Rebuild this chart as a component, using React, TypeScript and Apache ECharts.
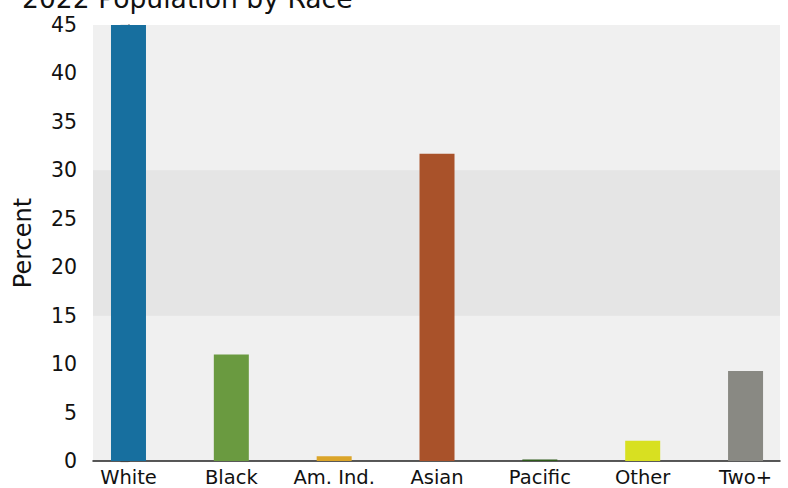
import React, { useEffect, useRef } from "react";
import * as echarts from "echarts";

const categories = ["White", "Black", "Am. Ind.", "Asian", "Pacific", "Other", "Two+"];
const percents = [45, 11.0, 0.5, 31.7, 0.15, 2.1, 9.3];
const barColors = ["#176f9f", "#6a9a40", "#dba52a", "#a9522a", "#2e5a1a", "#d8e021", "#898983"];
const yTicks = [0, 5, 10, 15, 20, 25, 30, 35, 40, 45];
const FONT = "DejaVu Sans";

export default function App() {
  const ref = useRef<HTMLDivElement>(null);
  useEffect(() => {
    if (!ref.current) return;
    document.body.style.margin = "0";
    const chart = echarts.init(ref.current, null, { renderer: "svg" });
    const positions = categories.map((_, i) => i);
    chart.setOption({
      animation: false,
      title: {
        text: "2022 Population by Race",
        left: 17,
        top: -20,
        textStyle: { fontFamily: FONT, fontSize: 26.6, fontWeight: "normal", color: "#111" },
      },
      grid: {
        left: 93,
        right: 8,
        top: 25,
        bottom: 27,
        show: true,
        backgroundColor: "#f0f0f0",
        borderWidth: 0,
      },
      xAxis: {
        type: "value",
        min: -0.345,
        max: 6.335,
        splitLine: { show: false },
        axisTick: { show: false },
        axisLine: { show: true, onZero: false, lineStyle: { color: "#222", width: 1.5 } },
        axisLabel: {
          customValues: positions,
          formatter: (v: number) => categories[Math.round(v)] ?? "",
          fontFamily: FONT,
          fontSize: 19.5,
          color: "#111",
          margin: 6.5,
        },
      },
      yAxis: {
        type: "value",
        min: yTicks[0],
        max: yTicks[yTicks.length - 1],
        interval: 5,
        name: "Percent",
        nameLocation: "middle",
        nameGap: 58,
        nameTextStyle: { fontFamily: FONT, fontSize: 24, color: "#111" },
        splitLine: { show: false },
        axisLine: { show: true, lineStyle: { color: "#444", width: 1.5 } },
        axisTick: { show: true, length: 8, lineStyle: { color: "#444", width: 1.2 } },
        axisLabel: { fontFamily: FONT, fontSize: 20.5, color: "#111", margin: 16 },
      },
      series: [
        {
          type: "bar",
          barWidth: 35,
          data: percents.map((v, i) => ({ value: [i, v], itemStyle: { color: barColors[i] } })),
          markArea: {
            silent: true,
            itemStyle: { color: "#e5e5e5" },
            data: [[{ yAxis: 15 }, { yAxis: 30 }]],
          },
        },
      ],
    });
    return () => chart.dispose();
  }, []);
  return (
    <div
      ref={ref}
      style={{ position: "absolute", left: 0, top: 0, width: 788, height: 488 }}
    />
  );
}
